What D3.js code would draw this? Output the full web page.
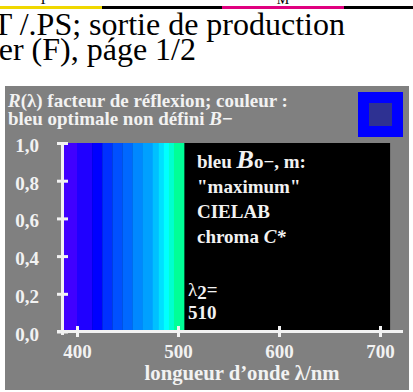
<!DOCTYPE html>
<html><head><meta charset="utf-8">
<script src="https://cdn.jsdelivr.net/npm/d3@7"></script>
<style>
html,body{margin:0;padding:0;background:#fff;}
svg{display:block;font-family:"Liberation Serif","Times New Roman",serif;}
</style></head><body>
<script>
// ---- data ----
const bandStart = [386, 400, 415, 425, 435, 445, 455, 465, 475, 481, 486, 491, 496];
const bandEnd   = [400, 415, 425, 435, 445, 455, 465, 475, 481, 486, 491, 496, 506];
const bandR     = [1, 1, 1, 1, 1, 1, 1, 1, 1, 1, 1, 1, 1];
const bandColors = ["#4000ff","#2000ff","#0000ff","#0030ff","#0050ff","#0068ff","#0088ff","#00a0ff","#00c0ff","#00e0ff","#00ffff","#00ffd0","#00ff98"];
const xTicks = [400, 500, 600, 700];
const yTicks = [0, 0.2, 0.4, 0.6, 0.8, 1.0];
const yTickLabels = ["0,0","0,2","0,4","0,6","0,8","1,0"];
const plotRange = [386, 710];
const lambda2 = "510";

const W = 413, H = 392;
const svg = d3.select("body").append("svg").attr("width", W).attr("height", H);

function fitWidth(sel, target, fs) {
  const len = sel.node().getComputedTextLength();
  if (len > 0) sel.attr("font-size", fs * target / len);
}

// header
const topBars = [
  {x0:0, x1:102, c:"#f0d800"},
  {x0:102, x1:222, c:"#000"},
  {x0:222, x1:344, c:"#e0007f"},
  {x0:344, x1:413, c:"#000"}
];
svg.selectAll("rect.tb").data(topBars).join("rect")
  .attr("x", d=>d.x0).attr("y", 6).attr("width", d=>d.x1-d.x0).attr("height", 3).attr("fill", d=>d.c);
svg.append("text").attr("x", 43).attr("y", 4).attr("text-anchor","middle").attr("font-size",14).text("Y");
svg.append("text").attr("x", 283).attr("y", 4).attr("text-anchor","middle").attr("font-size",14).text("M");
svg.append("text").attr("x", 345).attr("y", 35).attr("text-anchor","end").attr("font-size",32).text("TT /.PS; sortie de production");
svg.append("text").attr("x", 196).attr("y", 60).attr("text-anchor","end").attr("font-size",32).text("Printer (F), páge 1/2");

// gray panel
svg.append("rect").attr("x",5).attr("y",86).attr("width",404).attr("height",304).attr("fill","#808080");

const x = d3.scaleLinear().domain([400,700]).range([77,380]);
const y = d3.scaleLinear().domain([0,1]).range([331.5,143]);

// plot background (black, zero reflection)
svg.append("rect").attr("x", x(plotRange[0])).attr("y", y(1))
  .attr("width", x(plotRange[1]) - x(plotRange[0])).attr("height", y(0) - 1.5 - y(1)).attr("fill","#000");

// bands
const bands = bandStart.map((s,i)=>({s, e:bandEnd[i], r:bandR[i], c:bandColors[i]}));
svg.selectAll("rect.band").data(bands).join("rect")
  .attr("x", d=>x(d.s)).attr("y", d=>y(d.r))
  .attr("width", d=>x(d.e)-x(d.s)+0.3).attr("height", d=>y(0)-1.5-y(d.r)).attr("fill", d=>d.c);

const white = "#f2f2f2";
const FS = 19;
// axes
const xAxis = svg.append("g").attr("transform", `translate(0,${y(0)})`)
  .call(d3.axisBottom(x).tickValues(xTicks).tickSize(5.5).tickFormat(d3.format("d")));
xAxis.select(".domain").remove();
xAxis.selectAll(".tick line").attr("y1",-5.5).attr("y2",5.5).attr("stroke",white).attr("stroke-width",3);
xAxis.selectAll(".tick text").attr("y", 26.5).attr("dy",0).attr("fill",white)
  .attr("font-size",FS).attr("font-weight","bold").attr("font-family","Liberation Serif");
xAxis.append("line").attr("x1",57).attr("x2",403).attr("y1",0).attr("y2",0).attr("stroke",white).attr("stroke-width",3);

const yAxis = svg.append("g").attr("transform", `translate(62.5,0)`)
  .call(d3.axisLeft(y).tickValues(yTicks).tickSize(5.5).tickFormat((d,i)=>yTickLabels[i]));
yAxis.select(".domain").remove();
yAxis.selectAll(".tick line").attr("x1",-5.5).attr("x2",5.5).attr("stroke",white).attr("stroke-width",3);
yAxis.selectAll(".tick text").attr("x",-23.5).attr("dy",8.5).attr("fill",white)
  .attr("font-size",FS).attr("font-weight","bold").attr("font-family","Liberation Serif");
yAxis.append("line").attr("x1",0).attr("x2",0).attr("y1",y(1)-1).attr("y2",y(0)+3.5).attr("stroke",white).attr("stroke-width",3);

// axis title
const at = svg.append("text").attr("x",242).attr("y",380).attr("text-anchor","middle")
  .attr("font-size",FS).attr("font-weight","bold").attr("fill",white)
  .text("longueur d’onde λ/nm");
fitWidth(at, 195, FS);

// chart title
const t1 = svg.append("text").attr("x",8).attr("y",107).attr("font-size",FS).attr("font-weight","bold").attr("fill",white);
t1.append("tspan").attr("font-style","italic").text("R");
t1.append("tspan").text("(λ) facteur de réflexion; couleur :");
fitWidth(t1, 280, FS);
const t2 = svg.append("text").attr("x",8).attr("y",125).attr("font-size",FS).attr("font-weight","bold").attr("fill",white);
t2.append("tspan").text("bleu optimale non défini ");
t2.append("tspan").attr("font-style","italic").text("B");
t2.append("tspan").text("−");
fitWidth(t2, 225, FS);

// legend square
svg.append("rect").attr("x",358).attr("y",92).attr("width",45).attr("height",45).attr("fill","#0000ff");
svg.append("rect").attr("x",369).attr("y",103).attr("width",23).attr("height",23).attr("fill","#2e3192");

// black-area annotation
const ann = svg.append("g").attr("font-size",FS).attr("font-weight","bold").attr("fill",white);
const a1 = ann.append("text").attr("x",197).attr("y",168);
a1.append("tspan").text("bleu ");
a1.append("tspan").attr("font-style","italic").attr("font-size",26).text("B");
a1.append("tspan").attr("font-size",FS).text("o−");
a1.append("tspan").text(", m:");
ann.append("text").attr("x",197).attr("y",193).text("\"maximum\"");
ann.append("text").attr("x",197).attr("y",218).text("CIELAB");
const a4 = ann.append("text").attr("x",197).attr("y",243);
a4.append("tspan").text("chroma ");
a4.append("tspan").attr("font-style","italic").text("C*");
const a5 = ann.append("text").attr("x",188).attr("y",296);
a5.append("tspan").attr("font-weight","normal").text("λ");
a5.append("tspan").attr("dy",3).text("2");
a5.append("tspan").attr("dy",-3).text("=");
ann.append("text").attr("x",188).attr("y",319).text(lambda2);
</script>
</body></html>
